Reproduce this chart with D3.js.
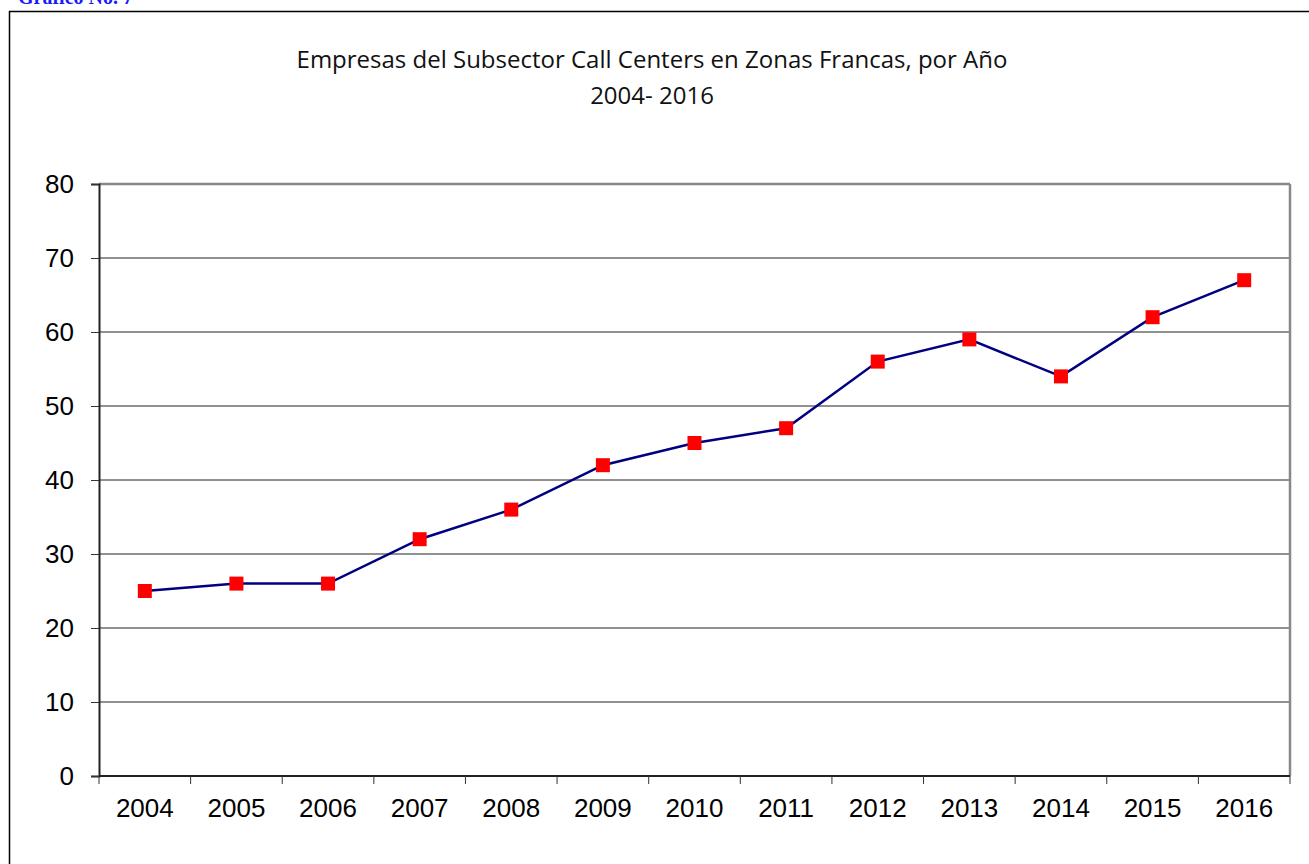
<!DOCTYPE html>
<html>
<head>
<meta charset="utf-8">
<script src="https://cdn.jsdelivr.net/npm/d3@7"></script>
<style>
  body { margin: 0; background: #fff; }
  svg { display: block; }
</style>
</head>
<body>
<div id="chart"></div>
<script>
// data
const years = ["2004","2005","2006","2007","2008","2009","2010","2011","2012","2013","2014","2015","2016"];
const empresas = [25, 26, 26, 32, 36, 42, 45, 47, 56, 59, 54, 62, 67];
const yTicks = [0, 10, 20, 30, 40, 50, 60, 70, 80];
const titleLines = ["Empresas del Subsector Call Centers en Zonas Francas, por Año", "2004- 2016"];

const W = 1309, H = 864;
const margin = {left: 99, right: 19, top: 184, bottom: 88};
const width = W - margin.left - margin.right;
const height = H - margin.top - margin.bottom;

const svg = d3.select("#chart").append("svg")
  .attr("width", W)
  .attr("height", H);

// caption above the frame (cut off at the top in the original too)
svg.append("text")
  .attr("x", 18)
  .attr("y", 4)
  .attr("fill", "#1a1aff")
  .attr("font-family", "Liberation Serif, serif")
  .attr("font-weight", "bold")
  .attr("font-size", 20)
  .text("Gráfico No. 7");

// outer frame
svg.append("rect")
  .attr("x", 9.5).attr("y", 11.5)
  .attr("width", 1320).attr("height", 900)
  .attr("fill", "none")
  .attr("stroke", "#000")
  .attr("stroke-width", 1.5);

// title
svg.append("g").selectAll("text")
  .data(titleLines)
  .join("text")
  .attr("x", 652)
  .attr("y", (d, i) => 68 + i * 36)
  .attr("text-anchor", "middle")
  .attr("font-family", "Open Sans, sans-serif")
  .attr("font-size", 24)
  .attr("fill", "#111")
  .text(d => d);

const g = svg.append("g")
  .attr("transform", `translate(${margin.left},${margin.top})`);

const x = d3.scaleBand()
  .domain(years)
  .range([0, width]);

const y = d3.scaleLinear()
  .domain([0, 80])
  .range([height, 0]);

// gridlines
g.append("g")
  .selectAll("line")
  .data(yTicks.filter(d => d > 0))
  .join("line")
  .attr("x1", 0).attr("x2", width)
  .attr("y1", d => y(d)).attr("y2", d => y(d))
  .attr("stroke", d => d === 80 ? "#888" : "#222")
  .attr("stroke-width", d => d === 80 ? 2.5 : 1);

// right border of plot
g.append("line")
  .attr("x1", width).attr("x2", width)
  .attr("y1", 0).attr("y2", height)
  .attr("stroke", "#888")
  .attr("stroke-width", 2.5);

// y axis
const yAxis = g.append("g")
  .call(d3.axisLeft(y).tickValues(yTicks).tickSize(8).tickPadding(17));
yAxis.select(".domain").attr("stroke", "#222").attr("stroke-width", 2);
yAxis.selectAll(".tick line").attr("stroke", "#333");
yAxis.selectAll(".tick text")
  .attr("font-family", "Liberation Sans, Arial, sans-serif")
  .attr("font-size", 26)
  .attr("fill", "#000");

// x axis: ticks on band boundaries, labels at band centres
const xAxis = g.append("g")
  .attr("transform", `translate(0,${height})`);
xAxis.append("line")
  .attr("x1", 0).attr("x2", width)
  .attr("stroke", "#222").attr("stroke-width", 2);
xAxis.selectAll(".bound")
  .data(years.concat(["end"]))
  .join("line")
  .attr("class", "bound")
  .attr("x1", (d, i) => i * x.bandwidth())
  .attr("x2", (d, i) => i * x.bandwidth())
  .attr("y1", 0).attr("y2", 8)
  .attr("stroke", "#333");
xAxis.selectAll("text")
  .data(years)
  .join("text")
  .attr("x", d => x(d) + x.bandwidth() / 2)
  .attr("y", 41)
  .attr("text-anchor", "middle")
  .attr("font-family", "Liberation Sans, Arial, sans-serif")
  .attr("font-size", 26)
  .attr("fill", "#000")
  .text(d => d);

// series line
const pts = years.map((yr, i) => ({year: yr, value: empresas[i]}));
const line = d3.line()
  .x(d => x(d.year) + x.bandwidth() / 2)
  .y(d => y(d.value));

g.append("path")
  .datum(pts)
  .attr("fill", "none")
  .attr("stroke", "#000080")
  .attr("stroke-width", 2.5)
  .attr("d", line);

// markers
const ms = 14;
g.selectAll(".marker")
  .data(pts)
  .join("rect")
  .attr("class", "marker")
  .attr("x", d => x(d.year) + x.bandwidth() / 2 - ms / 2)
  .attr("y", d => y(d.value) - ms / 2)
  .attr("width", ms)
  .attr("height", ms)
  .attr("fill", "#ff0000");
</script>
</body>
</html>
